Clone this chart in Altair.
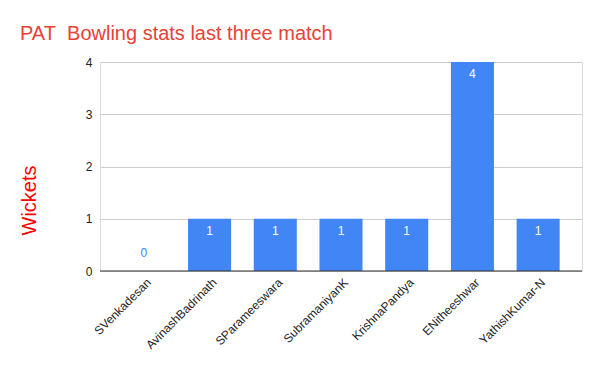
import altair as alt
import pandas as pd

players = ["SVenkadesan", "AvinashBadrinath", "SParameeswara", "SubramaniyanK",
           "KrishnaPandya", "ENitheeshwar", "YathishKumar-N"]
wickets = [0, 1, 1, 1, 1, 4, 1]

df = pd.DataFrame({"player": players, "wickets": wickets})

FONT = "Liberation Sans"
BLUE = "#4285f4"

x = alt.X("player:N", sort=players, title=None,
          scale=alt.Scale(paddingInner=0.345, paddingOuter=0.34),
          axis=alt.Axis(labelAngle=-45, labelAlign="right", labelBaseline="middle",
                        labelFontSize=12, labelColor="#222222", labelFont=FONT,
                        ticks=False, domain=False, labelPadding=9, labelOffset=5, grid=False))
y = alt.Y("wickets:Q", title="Wickets",
          scale=alt.Scale(domain=[0, 4], nice=False),
          axis=alt.Axis(values=[0, 1, 2, 3, 4], format="d", tickSize=0, domain=False,
                        labelPadding=8, labelFontSize=12, labelColor="#222222", labelFont=FONT,
                        gridColor="#cccccc", titleColor="#ff0000", titleFontSize=20,
                        titleFont=FONT, titleFontWeight="normal", titleAngle=270,
                        titleX=-71, titleY=138, titleAlign="center", titleBaseline="middle"))

base = alt.Chart(df)
bars = base.mark_bar(color=BLUE).encode(x=x, y=y)
inside = base.transform_filter("datum.wickets > 0").mark_text(
    color="white", dy=12, fontSize=12, font=FONT).encode(x=x, y=y, text="wickets:Q")
outside = base.transform_filter("datum.wickets == 0").mark_text(
    color=BLUE, dy=-18, fontSize=12, font=FONT).encode(x=x, y=y, text="wickets:Q")
zero = alt.Chart(pd.DataFrame({"z": [0]})).mark_rule(color="#333333", strokeWidth=1).encode(
    y=alt.Y("z:Q", scale=alt.Scale(domain=[0, 4], nice=False)))

chart = alt.layer(bars, zero, inside, outside).properties(
    width=482, height=209,
    title=alt.TitleParams("PAT\u00a0 Bowling stats last three match", anchor="start", frame="group",
                          color="#e94235", fontSize=20, font=FONT, fontWeight="normal",
                          dx=-80, offset=12),
    autosize=alt.AutoSizeParams(type="none"),
    padding={"left": 92, "top": 54, "right": 10, "bottom": 92},
).configure_view(stroke=None).configure(background="white")

chart.save("out.html", embed_options={"renderer": "svg", "actions": False})
